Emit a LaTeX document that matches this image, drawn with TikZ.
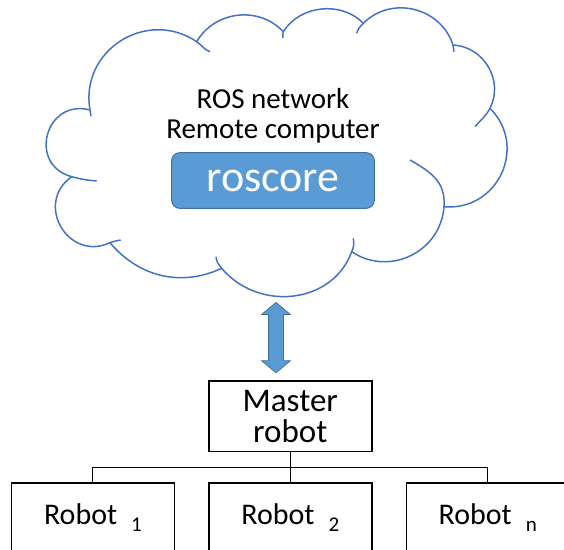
\documentclass[tikz,border=0pt]{standalone}
\usepackage{fontspec}
\setmainfont{Carlito}
\usetikzlibrary{positioning,shapes.arrows,calc}
\definecolor{cloudline}{HTML}{4472C4}
\definecolor{corefill}{HTML}{5B9BD5}
\definecolor{coreline}{HTML}{41719C}
\newcommand{\rsub}[1]{\hspace{14pt}\raisebox{-6.7pt}{\fontsize{21}{21}\selectfont #1}}

\begin{document}
\begin{tikzpicture}[x=1pt, y=1pt, line width=1pt,
  box/.style={draw, line width=1.4pt, inner sep=0pt, minimum width=163pt},
  robotbox/.style={box, anchor=north, text height=41.8pt, text depth=40pt,
    font=\fontsize{30}{30}\selectfont},
  cloudedge/.style={draw=cloudline, line width=1.5pt},
  label/.style={anchor=base, font=\fontsize{29}{29}\selectfont},
  core/.style={draw=coreline, fill=corefill, line width=1pt, rounded corners=8pt,
    minimum width=202.6pt, minimum height=55.6pt, text=white,
    font=\fontsize{44}{44}\selectfont},
  linkarrow/.style={double arrow, rotate=90, draw=coreline, fill=corefill,
    line width=0.8pt, minimum height=70.3pt, inner xsep=0pt, inner ysep=7pt,
    double arrow head extend=7pt, double arrow tip angle=100}]
  \useasboundingbox (0,0) rectangle (564,549);
  \clip (0,0) rectangle (564,549);

  % cloud outline
  \coordinate (J1) at (90,439);
  \coordinate (J2) at (71.7,372.3);
  \coordinate (J3) at (110,306.3);
  \coordinate (J4) at (221.7,280.7);
  \coordinate (J5) at (351.7,297.3);
  \coordinate (J6) at (444,342.3);
  \coordinate (J7) at (490,440.7);
  \coordinate (J8) at (453,504);
  \coordinate (J9) at (363.3,525.7);
  \coordinate (J10) at (283.3,517.3);
  \coordinate (J11) at (196.7,507.3);
  \draw[cloudedge] (J1) to[out=165,in=165,looseness=1.7] (J2)
    to[out=215,in=205,looseness=1.55] (J3)
    to[out=-50,in=205] (J4)
    to[out=-50,in=250,looseness=1.1] (J5)
    to[out=-34,in=266,looseness=1.13] (J6)
    to[out=-5,in=315,looseness=1.27] (J7)
    to[out=63,in=-3,looseness=1.08] (J8)
    to[out=108,in=45,looseness=1.1] (J9)
    to[out=134,in=58] (J10)
    to[out=133,in=60,looseness=1.05] (J11)
    to[out=146,in=100,looseness=1.22] (J1);
  % inner puff ends
  \draw[cloudedge] (J1) to[out=-80,in=95] (91,433);
  \draw[cloudedge] (J2) to[out=-15,in=175] (96.7,368);
  \draw[cloudedge] (J3) to[out=20,in=190] (120.7,309);
  \draw[cloudedge] (J4) to[out=130,in=-85] (216,292.3);
  \draw[cloudedge] (J5) to[out=65,in=-80] (353.3,310.7);
  \draw[cloudedge] (J6) to[out=86,in=-30,looseness=1.1] (410,389);
  \draw[cloudedge] (J7) to[out=243,in=50] (475,422.3);
  \draw[cloudedge] (J8) to[out=-72,in=100] (454,497.3);
  \draw[cloudedge] (J9) to[out=225,in=75] (356.7,515.7);
  \draw[cloudedge] (J10) to[out=250,in=95] (283,511);
  \draw[cloudedge] (J11) to[out=-34,in=160] (210,497.3);

  \node[label] (net) at (273,440.7) {ROS network};
  \node[label] (pc) at (273,410.7) {Remote computer};
  \node[core] (roscore) at (273,368.5) {roscore};

  % robots
  \node[box, minimum height=70.7pt, align=center,
    font=\fontsize{33}{31}\selectfont] (master) at (290.3,132.7) {Master\\robot};
  \node[robotbox, below=29.8pt of master] (r2) {Robot\rsub{2}};
  \node[robotbox, left=33pt of r2] (r1) {Robot\rsub{1}};
  \node[robotbox, right=33pt of r2] (rn) {Robot\rsub{n}};

  \coordinate (bus) at ($(master.south)!0.5!(r2.north)$);
  \draw (master.south) -- (r2.north);
  \draw (r1.north) |- (bus) -| (rn.north);

  \coordinate (cloudbase) at (276,254);
  \node[linkarrow] (link) at ($(cloudbase)!0.5!(cloudbase |- master.north)$) {};
\end{tikzpicture}
\end{document}
